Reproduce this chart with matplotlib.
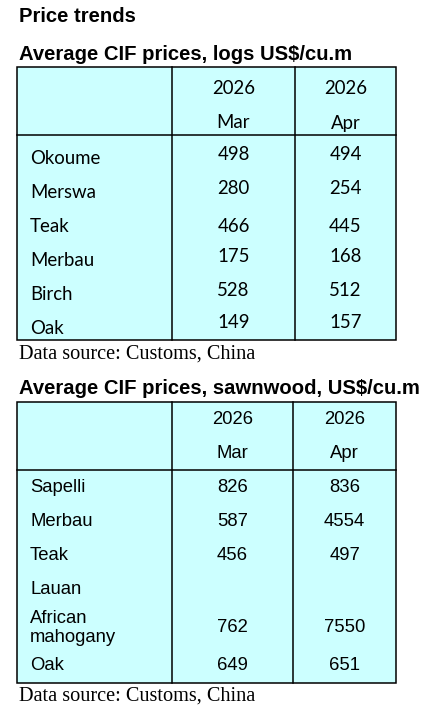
import matplotlib.pyplot as plt
from matplotlib.patches import Rectangle

# data
cols = ["2026\nMar", "2026\nApr"]

logs_species = ["Okoume", "Merswa", "Teak", "Merbau", "Birch", "Oak"]
logs_mar = [498, 280, 466, 175, 528, 149]
logs_apr = [494, 254, 445, 168, 512, 157]

sawn_species = ["Sapelli", "Merbau", "Teak", "Lauan", "African\nmahogany", "Oak"]
sawn_mar = [826, 587, 456, None, 762, 649]
sawn_apr = [836, 4554, 497, None, 7550, 651]

fill = "#CCFFFF"
W, H = 430, 716

fig = plt.figure(figsize=(W / 100, H / 100), dpi=100)
ax = fig.add_axes([0, 0, 1, 1])
ax.set_xlim(0, W)
ax.set_ylim(H, 0)
ax.axis("off")

title_font = dict(family="Liberation Sans", weight="bold", color="black")
src_font = dict(family="Liberation Serif", fontsize=14.6, color="black")


def draw_table(top, head_bot, bottom, xs, head_y, label_y, val_y,
               species, mar, apr, font, fsize):
    x0, x1, x2, x3 = xs
    ax.add_patch(Rectangle((x0, top), x3 - x0, bottom - top, facecolor=fill,
                           edgecolor="black", linewidth=1.1))
    ax.plot([x0, x3], [head_bot, head_bot], color="black", lw=1.1)
    ax.plot([x1, x1], [top, bottom], color="black", lw=1.1)
    ax.plot([x2, x2], [top, bottom], color="black", lw=1.1)
    for cx, c in zip([(x1 + x2) / 2, (x2 + x3) / 2], cols):
        yr, mo = c.split("\n")
        ax.text(cx, head_y[0], yr, ha="center", va="center",
                family=font, fontsize=fsize)
        ax.text(cx, head_y[1], mo, ha="center", va="center",
                family=font, fontsize=fsize)
    for i, name in enumerate(species):
        ax.text(x0 + 13, label_y[i], name, ha="left", va="center",
                family=font, fontsize=fsize, linespacing=1.1)
        if mar[i] is not None:
            ax.text((x1 + x2) / 2, val_y[i], str(mar[i]), ha="center",
                    va="center", family=font, fontsize=fsize)
        if apr[i] is not None:
            ax.text((x2 + x3) / 2, val_y[i], str(apr[i]), ha="center",
                    va="center", family=font, fontsize=fsize)


ax.text(19, 17, "Price trends", ha="left", va="center", fontsize=14.6, **title_font)

# logs table
ax.text(19, 55, "Average CIF prices, logs US$/cu.m", ha="left", va="center",
        fontsize=14.6, **title_font)
draw_table(67, 135, 340, [17, 172, 295, 396], [89, 123],
           [159, 193, 226, 261, 295, 328], [154, 188, 226, 256, 290, 323],
           logs_species, logs_mar, logs_apr, "Lato", 13.4)
ax.text(19, 354, "Data source: Customs, China", ha="left", va="center", **src_font)

# sawnwood table
ax.text(19, 389, "Average CIF prices, sawnwood, US$/cu.m", ha="left", va="center",
        fontsize=14.6, **title_font)
draw_table(402, 470, 683, [17, 172, 293, 396], [419, 453],
           [488, 522, 555, 590, 628, 666], [488, 522, 555, 590, 628, 666],
           sawn_species, sawn_mar, sawn_apr, "Liberation Sans", 13.3)
ax.text(19, 696, "Data source: Customs, China", ha="left", va="center", **src_font)

fig.savefig("out.png", dpi=100)
